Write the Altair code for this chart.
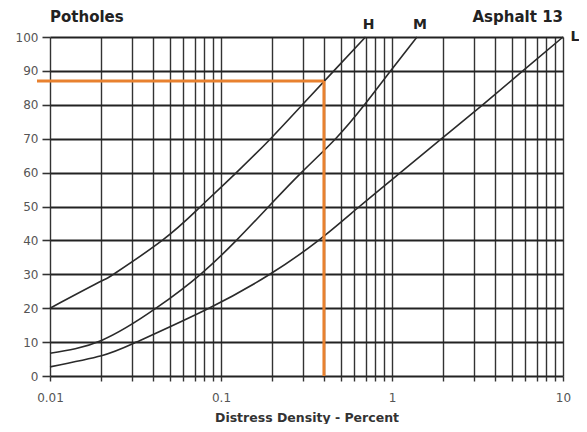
import altair as alt
import pandas as pd

# ---- data ----
h_x = [0.01, 0.02, 0.0235, 0.0453, 0.076, 0.123, 0.195, 0.299, 0.457, 0.7]
h_y = [20, 28, 30, 40, 50, 60, 70, 80, 90, 100]
m_x = [0.01, 0.02, 0.0417, 0.0759, 0.123, 0.19, 0.295, 0.468, 0.69, 0.98, 1.4]
m_y = [6.7, 10.5, 20, 30, 40, 50, 60, 70, 80, 90, 100]
l_x = [0.01, 0.02, 0.032, 0.085, 0.193, 0.372, 0.645, 1.12, 1.95, 3.39, 5.82, 10]
l_y = [2.7, 6, 10, 20, 30, 40, 50, 60, 70, 80, 90, 100]

x_ticks = [0.01, 0.02, 0.03, 0.04, 0.05, 0.06, 0.07, 0.08, 0.09,
           0.1, 0.2, 0.3, 0.4, 0.5, 0.6, 0.7, 0.8, 0.9,
           1, 2, 3, 4, 5, 6, 7, 8, 9, 10]
x_labels = [0.01, 0.1, 1, 10]
y_ticks = [0, 10, 20, 30, 40, 50, 60, 70, 80, 90, 100]

read_x = 0.4
read_y = 87

rows = []
for name, xs, ys in [("H", h_x, h_y), ("M", m_x, m_y), ("L", l_x, l_y)]:
    for a, b in zip(xs, ys):
        rows.append({"curve": name, "x": a, "y": b})
curves = pd.DataFrame(rows)

ends_hm = pd.DataFrame({"curve": ["H", "M"], "x": [h_x[-1], m_x[-1]], "y": [h_y[-1], m_y[-1]]})
ends_l = pd.DataFrame({"curve": ["L"], "x": [l_x[-1]], "y": [l_y[-1]]})
read_df = pd.DataFrame({"x": [read_x], "y": [read_y], "y0": [0]})
titles = pd.DataFrame({"t": ["Potholes"]})
titles2 = pd.DataFrame({"t": ["Asphalt 13"]})

FONT = "DejaVu Sans"

xscale = alt.Scale(type="log", domain=[0.01, 10], nice=False)
yscale = alt.Scale(domain=[0, 100], nice=False)

label_test = " || ".join(f"datum.value == {v}" for v in x_labels)
xaxis = alt.Axis(
    values=x_ticks,
    labelExpr=f"({label_test}) ? toString(datum.value) : ''",
    title="Distress Density - Percent",
    titleFont=FONT, titleFontSize=12.5, titleFontWeight="bold", titleColor="#333",
    titlePadding=8,
    labelFont=FONT, labelFontSize=12, labelColor="#555", labelPadding=11,
    labelOverlap=False,
    grid=True, gridColor="#333", gridWidth=1.4,
    tickColor="#333", tickSize=5, tickWidth=1.4,
    domain=False, labelFlush=False,
)
yaxis = alt.Axis(
    values=y_ticks,
    title=None,
    labelFont=FONT, labelFontSize=12, labelColor="#555", labelPadding=4,
    labelOverlap=False,
    grid=True, gridColor="#222", gridWidth=2,
    tickColor="#333", tickSize=8, tickWidth=1.6,
    domain=False,
)

X = alt.X("x:Q", scale=xscale, axis=xaxis)
Y = alt.Y("y:Q", scale=yscale, axis=yaxis)

lines = alt.Chart(curves).mark_line(interpolate="natural", color="#2a2a2a", strokeWidth=1.6).encode(
    x=X, y=Y, detail="curve:N",
)

orange = "#e8812f"
hrule = alt.Chart(read_df).mark_rule(color=orange, strokeWidth=3).encode(
    x=X, x2=alt.value(-13), y=Y,
)
vrule = alt.Chart(read_df).mark_rule(color=orange, strokeWidth=3).encode(
    x=X, y=Y, y2="y0:Q",
)

lab_hm = alt.Chart(ends_hm).mark_text(font=FONT, fontSize=14, fontWeight="bold", color="#222",
                                      dx=3, dy=-12).encode(x=X, y=Y, text="curve:N")
lab_l = alt.Chart(ends_l).mark_text(font=FONT, fontSize=14, fontWeight="bold", color="#222",
                                    dx=12, dy=0).encode(x=X, y=Y, text="curve:N")

t1 = alt.Chart(titles).mark_text(font=FONT, fontSize=15, fontWeight="bold", color="#222",
                                 align="left", baseline="alphabetic").encode(
    x=alt.value(0), y=alt.value(-15), text="t:N")
t2 = alt.Chart(titles2).mark_text(font=FONT, fontSize=15, fontWeight="bold", color="#222",
                                  align="right", baseline="alphabetic").encode(
    x=alt.value(513), y=alt.value(-15), text="t:N")

chart = alt.layer(lines, hrule, vrule, lab_hm, lab_l, t1, t2).properties(
    width=513, height=339,
    autosize=alt.AutoSizeParams(type="none"),
    padding={"left": 42, "top": 29, "right": 16, "bottom": 48},
    background="white",
).configure_view(stroke=None)

chart.save("out.html", embed_options={"renderer": "svg", "actions": False})
